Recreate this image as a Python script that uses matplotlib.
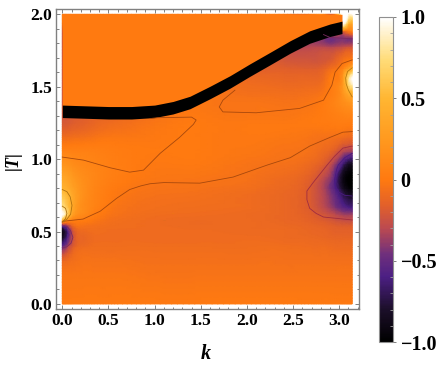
import numpy as np
import matplotlib
matplotlib.use("Agg")
import matplotlib.pyplot as plt
import matplotlib.tri as mtri
from matplotlib.colors import LinearSegmentedColormap, Normalize
from matplotlib.ticker import MultipleLocator

plt.rcParams['font.family'] = ['Liberation Serif', 'DejaVu Serif']
plt.rcParams['font.weight'] = 'bold'

# values, rows follow t_grid, columns follow k_grid
# cells above the ridge get painted over, they only keep the shading under it even
k_grid = [0, 0.04, 0.1, 0.2, 0.35, 0.6, 1.0, 1.5, 2.0, 2.4, 2.7, 2.85, 2.95, 3.03, 3.09, 3.14]
t_grid = [0, 0.15, 0.3, 0.4, 0.46, 0.5, 0.54, 0.58, 0.62, 0.66, 0.72, 0.8, 0.88, 0.96,
          1.05, 1.15, 1.25, 1.32, 1.4, 1.47, 1.55, 1.62, 1.7, 1.78, 1.84, 1.88, 1.93, 2.0]
field = [
    [0, 0, 0, 0, 0, 0, 0, 0, 0, 0, 0, 0, 0, 0, 0, 0],
    [-.02, -.02, -.02, -.02, -.02, -.02, -.03, -.03, -.03, -.03, -.03, -.03, -.03, -.03, -.03, -.03],
    [-.12, -.1, -.07, -.05, -.05, -.05, -.06, -.06, -.06, -.06, -.06, -.06, -.06, -.06, -.06, -.06],
    [-.55, -.42, -.22, -.1, -.08, -.08, -.08, -.08, -.08, -.08, -.09, -.09, -.1, -.1, -.1, -.1],
    [-.85, -.65, -.3, -.12, -.09, -.09, -.09, -.09, -.09, -.1, -.11, -.12, -.13, -.13, -.13, -.13],
    [-.88, -.7, -.3, -.1, -.08, -.09, -.09, -.09, -.1, -.1, -.12, -.13, -.15, -.15, -.15, -.15],
    [-.5, -.38, -.14, -.04, -.06, -.08, -.09, -.1, -.1, -.11, -.13, -.15, -.17, -.18, -.18, -.18],
    [.55, .3, .1, .04, -.01, -.07, -.09, -.1, -.1, -.12, -.15, -.19, -.23, -.26, -.27, -.27],
    [1, .8, .38, .15, .04, -.05, -.08, -.09, -.1, -.12, -.17, -.24, -.3, -.35, -.37, -.37],
    [.85, .7, .42, .18, .07, -.04, -.07, -.08, -.09, -.12, -.19, -.3, -.41, -.5, -.56, -.58],
    [.65, .58, .42, .2, .08, -.02, -.06, -.07, -.09, -.12, -.2, -.33, -.47, -.62, -.72, -.75],
    [.48, .44, .34, .2, .09, 0, -.04, -.05, -.07, -.11, -.2, -.36, -.56, -.8, -.93, -.97],
    [.35, .33, .26, .17, .1, .03, -.02, -.03, -.05, -.09, -.16, -.3, -.52, -.85, -.98, -1],
    [.22, .21, .17, .12, .08, .03, -.01, -.01, -.04, -.06, -.11, -.2, -.38, -.62, -.8, -.85],
    [.08, .08, .07, .06, .05, .02, 0, 0, -.02, -.04, -.06, -.11, -.18, -.3, -.36, -.38],
    [-.08, -.08, -.07, -.06, -.04, -.02, -.01, 0, -.01, -.02, -.04, -.05, -.06, -.08, -.1, -.1],
    [-.2, -.2, -.18, -.16, -.12, -.08, -.03, 0, -.01, -.01, 0, .01, .02, .03, .03, .03],
    [-.22, -.22, -.2, -.18, -.14, -.1, -.05, -.01, -.03, -.03, -.01, .02, .05, .08, .1, .1],
    [-.22, -.22, -.2, -.18, -.14, -.1, -.05, -.02, -.04, -.05, -.03, .02, .08, .15, .22, .26],
    [-.22, -.22, -.2, -.18, -.14, -.1, -.05, -.02, -.07, -.08, -.07, -.02, .06, .2, .45, .55],
    [-.22, -.22, -.2, -.18, -.14, -.1, -.05, -.02, -.1, -.12, -.12, -.06, .03, .2, .7, 1],
    [-.22, -.22, -.2, -.18, -.14, -.1, -.05, -.02, -.15, -.16, -.17, -.12, -.04, .08, .3, .45],
    [-.22, -.22, -.2, -.18, -.14, -.1, -.05, -.02, -.15, -.22, -.24, -.22, -.17, -.1, -.05, -.03],
    [-.22, -.22, -.2, -.18, -.14, -.1, -.05, -.02, -.15, -.26, -.32, -.33, -.33, -.3, -.27, -.27],
    [-.22, -.22, -.2, -.18, -.14, -.1, -.05, -.02, -.15, -.26, -.36, -.42, -.42, -.42, -.4, -.38],
    [-.2, -.2, -.18, -.16, -.12, -.08, -.04, -.02, -.1, -.15, -.2, -.2, -.2, -.1, -.02, .05],
    [-.05, -.05, -.05, -.04, -.03, -.02, -.01, 0, -.02, -.03, -.04, -.05, 0, 1, .55, .35],
    [0, 0, 0, 0, 0, 0, 0, 0, 0, 0, 0, 0, 0, 1, 1, 1],
]

# black ridge
band_k = [0, 0.25, 0.5, 0.75, 1.0, 1.2, 1.383, 1.6, 1.817, 2.03, 2.25, 2.47, 2.68, 2.9, 3.0, 3.03]
band_t = [1.33, 1.325, 1.32, 1.32, 1.33, 1.355, 1.391, 1.46, 1.533, 1.614, 1.694, 1.775, 1.843, 1.89, 1.905, 1.91]
band_half = 0.043

# contour lines
line_main_k = [0, .225, .41, .59, .73, .85, .95, 1.1, 1.49, 1.85, 2.22, 2.47, 2.68, 2.9, 3.04, 3.14]
line_main_t = [.57, .586, .64, .73, .79, .815, .83, .838, .834, .876, .959, 1.01, 1.09, 1.15, 1.186, 1.19]
line_left_k = [0, .23, .52, .73, .88, 1.06, 1.27, 1.42, 1.45, 1.4, 1.03, .95]
line_left_t = [1.014, .993, .94, .91, .924, 1.04, 1.15, 1.24, 1.27, 1.29, 1.286, 1.28]
line_right_k = [1.87, 1.74, 1.70, 1.74, 2.1, 2.57, 2.83, 2.92, 2.955, 3.03, 3.14]
line_right_t = [1.476, 1.407, 1.36, 1.326, 1.32, 1.35, 1.407, 1.51, 1.6, 1.66, 1.685]
line_top_k = [2.83, 2.9, 3.03, 3.14]
line_top_t = [1.86, 1.84, 1.835, 1.83]
ring_white_k = [3.14, 3.09, 3.07, 3.075, 3.1, 3.14]
ring_white_t = [1.63, 1.605, 1.56, 1.52, 1.475, 1.43]
blob_outer_k = [3.14, 3.04, 2.95, 2.87, 2.72, 2.65, 2.65, 2.68, 2.75, 2.83, 3.14]
blob_outer_t = [1.09, 1.076, 1.02, .96, .84, .78, .72, .66, .625, .60, .58]
blob_inner_k = [3.14, 3.06, 2.99, 2.97, 2.95, 2.96, 3.0, 3.06, 3.14]
blob_inner_t = [1.04, 1.01, .96, .924, .855, .81, .77, .75, .745]
ring_a_k = [0, .05, .085, .105, .09, .05, .0]
ring_a_t = [.79, .775, .74, .68, .62, .585, .565]
ring_b_k = [0, .035, .05, .035, 0]
ring_b_t = [.675, .66, .625, .59, .565]
ring_c_k = [0, .05, .09, .115, .095, .05, 0]
ring_c_t = [.545, .535, .505, .46, .42, .395, .386]

cbar_ticks = [-1, -0.5, 0, 0.5, 1]
cbar_labels = ["\u22121.0", "\u22120.5", "0", "0.5", "1.0"]

sunset = LinearSegmentedColormap.from_list("sunset", [
    (0.0, "#000000"), (0.1, "#1c0f2a"), (0.2, "#4c1f84"), (0.27, "#70307c"),
    (0.35, "#bc4a50"), (0.42, "#e2602a"), (0.5, "#ff7a10"), (0.62, "#ff981e"),
    (0.75, "#ffb632"), (0.87, "#ffdc78"), (1.0, "#ffffff")])
norm = Normalize(-1, 1)

W, H = 443, 372
fig = plt.figure(figsize=(W / 100, H / 100), dpi=100)
ax = fig.add_axes([56.5 / W, 1 - 309 / H, 302.2 / W, 300.5 / H])

kk, tt = np.meshgrid(k_grid, t_grid)
triang = mtri.Triangulation(kk.ravel(), tt.ravel())
refiner = mtri.UniformTriRefiner(triang)
fine, fine_z = refiner.refine_field(np.array(field, dtype=float).ravel(), subdiv=3)
mesh = ax.tripcolor(fine, np.clip(fine_z, -1, 1), cmap=sunset, norm=norm, shading="gouraud")

# everything above the ridge is flat
ax.fill_between(band_k, band_t, 2.0, color=sunset(norm(0)), lw=0, zorder=2)
ax.fill_between(band_k, np.array(band_t) - band_half, np.array(band_t) + band_half,
                color="black", lw=0, zorder=3)

for xs, ys, col in [
    (line_main_k, line_main_t, "#a8480c"),
    (line_left_k, line_left_t, "#a8480c"),
    (line_right_k, line_right_t, "#a8480c"),
    (line_top_k, line_top_t, "#7a2a60"),
    (ring_white_k, ring_white_t, "#b87a10"),
    (blob_outer_k, blob_outer_t, "#a02c40"),
    (blob_inner_k, blob_inner_t, "#4a1a80"),
    (ring_a_k, ring_a_t, "#b07010"),
    (ring_b_k, ring_b_t, "#b07010"),
    (ring_c_k, ring_c_t, "#7a2a60"),
]:
    ax.plot(xs, ys, color=col, lw=0.6, zorder=4)

ax.set_xlim(-0.063, 3.211)
ax.set_ylim(-0.035, 2.04)
ax.xaxis.set_major_locator(MultipleLocator(0.5))
ax.xaxis.set_minor_locator(MultipleLocator(0.1))
ax.yaxis.set_major_locator(MultipleLocator(0.5))
ax.yaxis.set_minor_locator(MultipleLocator(0.1))
ax.tick_params(which="both", direction="in", top=True, right=True, color="#808080", width=0.7)
ax.tick_params(which="major", length=3.2, labelsize=12.5, pad=3)
ax.tick_params(which="minor", length=1.8)
for s in ax.spines.values():
    s.set_color("#808080")
    s.set_linewidth(1.0)

cax = fig.add_axes([379 / W, 1 - 342 / H, 14 / W, 325 / H])
cb = fig.colorbar(mesh, cax=cax)
cb.set_ticks(cbar_ticks, labels=cbar_labels)
cb.ax.yaxis.set_minor_locator(MultipleLocator(0.1))
cb.ax.tick_params(which="major", direction="out", length=2.5, color="#808080", width=0.7,
                  labelsize=14.5, pad=3)
cb.ax.tick_params(which="minor", direction="in", length=2, color="#a0a0a0", width=0.6)
cb.outline.set_edgecolor("#909090")
cb.outline.set_linewidth(0.8)

fig.text(206 / W, 1 - 354 / H, "k", style="italic", fontsize=14.5, ha="center", va="center")
fig.text(13 / W, 1 - 160 / H, "|T|", style="italic", fontsize=13, rotation=90, ha="center", va="center")

fig.savefig("out.png", dpi=100)
